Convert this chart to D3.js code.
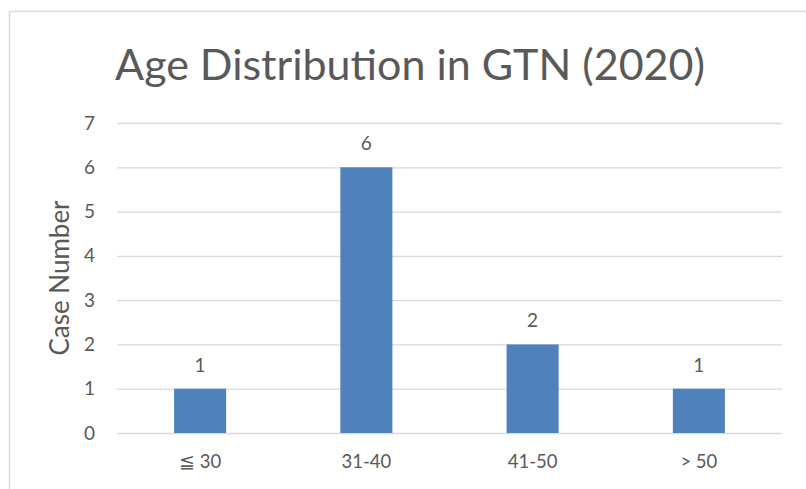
<!DOCTYPE html>
<html>
<head>
<meta charset="utf-8">
<script src="https://cdn.jsdelivr.net/npm/d3@7"></script>
<style>
  body { margin: 0; background: #fff; }
  text { font-family: Lato, "Open Sans", sans-serif; fill: #595959; }
</style>
</head>
<body>
<svg id="chart" width="806" height="489"></svg>
<script>
// chart values
const categories = ["≦ 30", "31-40", "41-50", "> 50"]
const caseCounts = [1, 6, 2, 1]
const yTicks = [0, 1, 2, 3, 4, 5, 6, 7]

const svg = d3.select("#chart")
const margin = {top: 123, right: 24, bottom: 56, left: 117}
const width = 806 - margin.left - margin.right
const height = 489 - margin.top - margin.bottom

// light frame round the chart area (left and top edges show)
svg.append("line").attr("x1", 9).attr("x2", 806).attr("y1", 11.5).attr("y2", 11.5)
    .attr("stroke", "#d9d9d9").attr("stroke-width", 1.5)
svg.append("line").attr("x1", 9.5).attr("x2", 9.5).attr("y1", 11).attr("y2", 489)
    .attr("stroke", "#d9d9d9").attr("stroke-width", 1.5)

const g = svg.append("g")
    .attr("transform", "translate(" + margin.left + "," + margin.top + ")")

//x scale, bars take about a third of each band
const x = d3.scaleBand()
    .domain(categories)
    .range([0, width])
    .paddingInner(0.687)
    .paddingOuter(0.3435)

const y = d3.scaleLinear()
    .domain([0, 7])
    .range([height, 0])

//gridlines
g.append("g")
    .call(d3.axisLeft(y).tickValues(yTicks).tickSize(-width).tickFormat(""))
    .call(a => a.select(".domain").remove())
    .selectAll("line")
    .attr("stroke", "#d9d9d9")
    .attr("stroke-width", 1.3)

//y tick labels
g.append("g")
    .call(d3.axisLeft(y).tickValues(yTicks).tickSize(0).tickPadding(22).tickFormat(d3.format("d")))
    .call(a => a.select(".domain").remove())
    .selectAll("text")
    .attr("font-size", 19)
    .style("font-family", "Lato, sans-serif")
    .attr("fill", "#595959")

//bars
g.selectAll(".bar")
    .data(caseCounts)
    .enter()
    .append("rect")
    .attr("class", "bar")
    .attr("x", (d, i) => x(categories[i]))
    .attr("y", d => y(d))
    .attr("width", x.bandwidth())
    .attr("height", d => height - y(d))
    .attr("fill", "#4f81bd")

//value labels
g.selectAll(".val")
    .data(caseCounts)
    .enter()
    .append("text")
    .attr("class", "val")
    .attr("x", (d, i) => x(categories[i]) + x.bandwidth() / 2)
    .attr("y", d => y(d) - 17)
    .attr("text-anchor", "middle")
    .attr("font-size", 19)
    .text(d => d)

//x axis labels
g.append("g")
    .attr("transform", "translate(0," + height + ")")
    .call(d3.axisBottom(x).tickSize(0).tickPadding(22))
    .call(a => a.select(".domain").remove())
    .selectAll("text")
    .attr("font-size", 18.5)
    .style("font-family", "Lato, sans-serif")
    .attr("fill", "#595959")

//axis title
svg.append("text")
    .attr("transform", "translate(69," + (margin.top + height / 2) + ") rotate(-90)")
    .attr("text-anchor", "middle")
    .attr("font-size", 26)
    .text("Case Number")

//chart title
svg.append("text")
    .attr("x", 410)
    .attr("y", 80)
    .attr("text-anchor", "middle")
    .attr("font-size", 43)
    .text("Age Distribution in GTN (2020)")
</script>
</body>
</html>
